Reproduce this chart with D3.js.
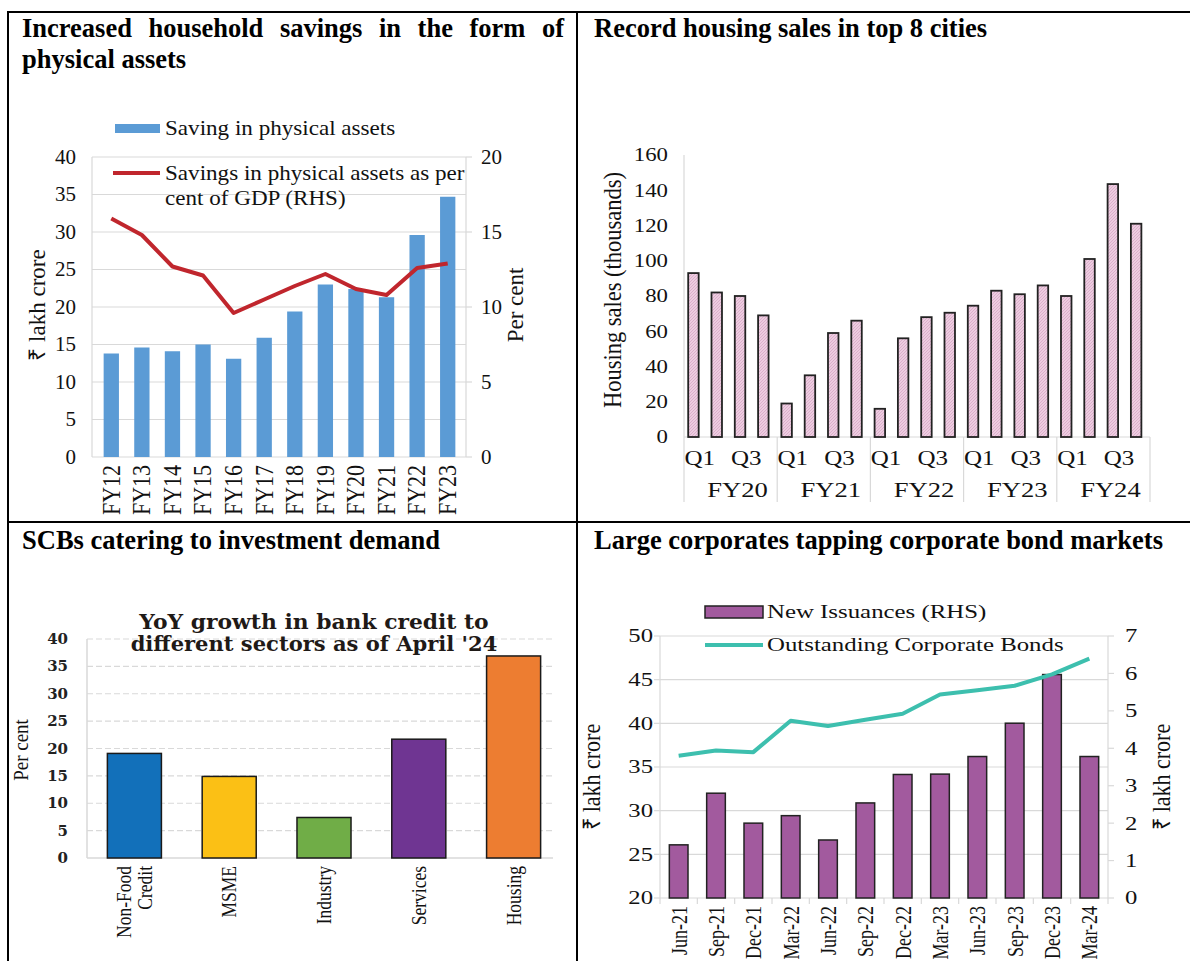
<!DOCTYPE html>
<html><head><meta charset="utf-8">
<script src="https://cdn.jsdelivr.net/npm/d3@7"></script>
<style>
body{margin:0;background:#fff}
svg text{font-family:"Liberation Serif","Times New Roman",serif;fill:#111}
</style>
</head><body>
<svg id="c" width="1190" height="961"></svg>
<script>
// ---------- DATA ----------
const fyYears = ["FY12","FY13","FY14","FY15","FY16","FY17","FY18","FY19","FY20","FY21","FY22","FY23"];
const physicalSavings = [13.8,14.6,14.1,15.0,13.1,15.9,19.4,23.0,22.4,21.3,29.6,34.7];
const physicalSavingsPctGDP = [15.9,14.8,12.7,12.1,9.6,10.5,11.4,12.2,11.2,10.8,12.6,12.9];
const savingsLeftTicks = [0,5,10,15,20,25,30,35,40];
const savingsRightTicks = [0,5,10,15,20];

const housingYears = ["FY20","FY21","FY22","FY23","FY24"];
const housingQuarters = ["Q1","Q2","Q3","Q4"];
const housingSales = [93,82,80,69, 19,35,59,66, 16,56,68,70.5, 74.5,83,81,86, 80,101,143.5,121];
const housingTicks = [0,20,40,60,80,100,120,140,160];

const sectors = [["Non-Food","Credit"],["MSME"],["Industry"],["Services"],["Housing"]];
const creditGrowth = [19.1,14.9,7.4,21.7,36.9];
const sectorColors = ["#1270BA","#FBC015","#70AD47","#6F3592","#ED7D31"];
const creditTicks = [0,5,10,15,20,25,30,35,40];

const bondDates = ["Jun-21","Sep-21","Dec-21","Mar-22","Jun-22","Sep-22","Dec-22","Mar-23","Jun-23","Sep-23","Dec-23","Mar-24"];
const newIssuances = [1.42,2.80,2.00,2.20,1.55,2.54,3.30,3.31,3.78,4.67,5.97,3.78];
const outstandingBonds = [36.3,36.9,36.7,40.3,39.7,40.4,41.1,43.3,43.8,44.3,45.6,47.4];
const bondLeftTicks = [20,25,30,35,40,45,50];
const bondRightTicks = [0,1,2,3,4,5,6,7];

// ---------- SETUP ----------
const svg = d3.select("#c");
const GRID = "#d9d9d9";

const border = svg.append("g").attr("stroke","#000").attr("stroke-width",2);
border.append("line").attr("x1",8).attr("x2",1190).attr("y1",12).attr("y2",12);
border.append("line").attr("x1",8).attr("x2",8).attr("y1",11).attr("y2",961);
border.append("line").attr("x1",577).attr("x2",577).attr("y1",11).attr("y2",961);
border.append("line").attr("x1",8).attr("x2",1190).attr("y1",522).attr("y2",522);

function txt(g, x, y, s, o={}) {
  const sx = o.sx || 1;
  let tr = `translate(${x},${y}) scale(${sx},1)`;
  if (o.rot) tr += " rotate(-90)";
  const t = g.append("text").attr("transform", tr)
    .attr("font-size", o.size || 19)
    .attr("text-anchor", o.anchor || "start")
    .text(s);
  if (o.weight) t.attr("font-weight", o.weight);
  if (o.family) t.style("font-family", o.family);
  if (o.baseline) t.attr("dominant-baseline", o.baseline);
  if (o.fill) t.style("fill", o.fill);
  return t;
}

const TS = 26.5;
function title(x, y, s) {
  return txt(svg, x, y, s, {size:TS, weight:"bold"}).style("fill","#000");
}
(function(){
  const words = "Increased household savings in the form of".split(" ");
  const x0 = 22, x1 = 564;
  const ts = words.map(w => txt(svg, 0, 37, w, {size:TS, weight:"bold"}).style("fill","#000"));
  const ws = ts.map(t => t.node().getComputedTextLength());
  const gap = (x1 - x0 - d3.sum(ws)) / (words.length - 1);
  let x = x0;
  ts.forEach((t,i) => { t.attr("transform", `translate(${x},37)`); x += ws[i] + gap; });
})();
title(22, 68, "physical assets");
title(594, 37, "Record housing sales in top 8 cities");
title(22, 549, "SCBs catering to investment demand");
title(594, 549, "Large corporates tapping corporate bond markets");

// ---------- PANEL 1 ----------
{
  const g = svg.append("g");
  const x = d3.scaleBand().domain(fyYears).range([96, 463]).paddingInner(0.5).paddingOuter(0.25);
  const yL = d3.scaleLinear().domain([0,40]).range([457,157]);
  const yR = d3.scaleLinear().domain([0,20]).range([457,157]);
  const cx = d => x(d) + x.bandwidth()/2;
  g.selectAll(".gl").data(savingsLeftTicks).join("line")
    .attr("x1",92).attr("x2",466).attr("y1",d=>yL(d)).attr("y2",d=>yL(d))
    .attr("stroke",GRID).attr("stroke-width",1.2);
  g.append("line").attr("x1",92).attr("x2",92).attr("y1",157).attr("y2",457).attr("stroke",GRID).attr("stroke-width",1.2);
  g.append("line").attr("x1",466).attr("x2",466).attr("y1",157).attr("y2",457).attr("stroke",GRID).attr("stroke-width",1.2);
  g.selectAll(".tr").data(savingsRightTicks).join("line")
    .attr("x1",466).attr("x2",472).attr("y1",d=>yR(d)).attr("y2",d=>yR(d)).attr("stroke",GRID).attr("stroke-width",1.2);
  g.selectAll(".bar").data(physicalSavings).join("rect")
    .attr("x",(d,i)=>x(fyYears[i])).attr("width",x.bandwidth())
    .attr("y",d=>yL(d)).attr("height",d=>yL(0)-yL(d)).attr("fill","#5B9BD5");
  g.append("path").datum(physicalSavingsPctGDP)
    .attr("d", d3.line().x((d,i)=>cx(fyYears[i])).y(d=>yR(d)))
    .attr("fill","none").attr("stroke","#C0262D").attr("stroke-width",4).attr("stroke-linejoin","round");
  savingsLeftTicks.forEach(v => txt(g, 76, yL(v), v, {size:20, sx:1.05, anchor:"end", baseline:"central"}));
  savingsRightTicks.forEach(v => txt(g, 481, yR(v), v, {size:20, sx:1.05, baseline:"central"}));
  fyYears.forEach(f => txt(g, cx(f), 465, f, {size:22, sx:1.1, anchor:"end", rot:true, baseline:"central"}));
  txt(g, 37, 305, "₹ lakh crore", {size:23, anchor:"middle", rot:true, baseline:"central"});
  txt(g, 515, 305, "Per cent", {size:23, anchor:"middle", rot:true, baseline:"central"});
  g.append("rect").attr("x",115).attr("y",124).attr("width",45).attr("height",9).attr("fill","#5B9BD5");
  txt(g, 165, 135, "Saving in physical assets", {size:22, sx:1.05});
  g.append("line").attr("x1",113).attr("x2",160).attr("y1",173).attr("y2",173).attr("stroke","#C0262D").attr("stroke-width",4);
  txt(g, 165, 180, "Savings in physical assets as per", {size:22, sx:1.05});
  txt(g, 165, 205, "cent of GDP (RHS)", {size:22, sx:1.05});
}

// ---------- PANEL 2 ----------
{
  const g = svg.append("g");
  const defs = svg.append("defs");
  const p = defs.append("pattern").attr("id","hatch").attr("patternUnits","userSpaceOnUse").attr("width",3).attr("height",3);
  p.append("rect").attr("width",3).attr("height",3).attr("fill","#EDCCE0");
  p.append("path").attr("d","M0,3 L3,0").attr("stroke","#D7A7C5").attr("stroke-width",0.8);
  const slots = d3.range(housingSales.length);
  const x = d3.scaleBand().domain(slots).range([684, 1150]);
  const y = d3.scaleLinear().domain([0,160]).range([437,155]);
  const bw = x.bandwidth();
  g.append("line").attr("x1",684).attr("x2",684).attr("y1",155).attr("y2",437).attr("stroke",GRID).attr("stroke-width",1.2);
  g.append("line").attr("x1",684).attr("x2",1150).attr("y1",437).attr("y2",437).attr("stroke",GRID).attr("stroke-width",1.2);
  g.selectAll(".bar").data(housingSales).join("rect")
    .attr("x",(d,i)=>x(i)+bw*0.18).attr("width",bw*0.45)
    .attr("y",d=>y(d)).attr("height",d=>y(0)-y(d))
    .attr("fill","url(#hatch)").attr("stroke","#222").attr("stroke-width",1.8);
  housingTicks.forEach(v => txt(g, 668, y(v), v, {size:19, sx:1.2, anchor:"end", baseline:"central"}));
  housingYears.forEach((fy,k) => {
    const s = x(k*4);
    g.append("line").attr("x1",s).attr("x2",s).attr("y1",437).attr("y2",502).attr("stroke",GRID).attr("stroke-width",1.2);
    txt(g, x(k*4+1)+bw+7, 490, fy, {size:20, sx:1.33, anchor:"middle", baseline:"central"});
    ["Q1","Q3"].forEach(q => {
      const qi = housingQuarters.indexOf(q);
      txt(g, x(k*4+qi)+bw/2+4, 458, q, {size:20, sx:1.25, anchor:"middle", baseline:"central"});
    });
  });
  g.append("line").attr("x1",1150).attr("x2",1150).attr("y1",437).attr("y2",502).attr("stroke",GRID).attr("stroke-width",1.2);
  txt(g, 613, 290, "Housing sales (thousands)", {size:22.5, sx:1.1, anchor:"middle", rot:true, baseline:"central"});
}

// ---------- PANEL 3 ----------
{
  const g = svg.append("g");
  const names = sectors.map(s => s.join(" "));
  const x = d3.scaleBand().domain(names).range([87, 561]).paddingInner(0.43).paddingOuter(0.215);
  const y = d3.scaleLinear().domain([0,40]).range([858,639]);
  g.selectAll(".gl").data(creditTicks.filter(v=>v>0)).join("line")
    .attr("x1",87).attr("x2",553).attr("y1",d=>y(d)).attr("y2",d=>y(d))
    .attr("stroke",GRID).attr("stroke-width",1.2).attr("stroke-dasharray","6,3");
  g.append("line").attr("x1",87).attr("x2",87).attr("y1",639).attr("y2",858).attr("stroke",GRID).attr("stroke-width",1.5);
  g.append("line").attr("x1",87).attr("x2",553).attr("y1",858).attr("y2",858).attr("stroke",GRID).attr("stroke-width",1.5);
  g.selectAll(".bar").data(creditGrowth).join("rect")
    .attr("x",(d,i)=>x(names[i])).attr("width",x.bandwidth())
    .attr("y",d=>y(d)).attr("height",d=>y(0)-y(d))
    .attr("fill",(d,i)=>sectorColors[i]).attr("stroke","#1a1a1a").attr("stroke-width",1.5);
  creditTicks.forEach(v => txt(g, 68, y(v), v, {size:15, weight:"bold", family:"DejaVu Serif", anchor:"end", baseline:"central", fill:"#222"}));
  sectors.forEach((lines,i) => {
    const c = x(names[i]) + x.bandwidth()/2;
    lines.forEach((ln,j) => {
      const off = (j - (lines.length-1)/2) * 21;
      txt(g, c+off, 866, ln, {size:17.5, sx:1.2, anchor:"end", rot:true, baseline:"central"});
    });
  });
  txt(g, 314, 629, "YoY growth in bank credit to", {size:19.5, sx:1.12, weight:"bold", family:"DejaVu Serif", anchor:"middle", fill:"#1f1a17"});
  txt(g, 314, 651, "different sectors as of April '24", {size:19.5, sx:1.08, weight:"bold", family:"DejaVu Serif", anchor:"middle", fill:"#1f1a17"});
  txt(g, 21, 750, "Per cent", {size:19, sx:1.05, anchor:"middle", rot:true, baseline:"central"});
}

// ---------- PANEL 4 ----------
{
  const g = svg.append("g");
  const x = d3.scaleBand().domain(bondDates).range([660, 1108]).paddingInner(0.5).paddingOuter(0.25);
  const xs = d3.scaleBand().domain(bondDates).range([660, 1108]);
  const yL = d3.scaleLinear().domain([20,50]).range([898,636]);
  const yR = d3.scaleLinear().domain([0,7]).range([898,636]);
  const cx = d => xs(d) + xs.bandwidth()/2;
  g.selectAll(".gl").data(bondLeftTicks).join("line")
    .attr("x1",660).attr("x2",1108).attr("y1",d=>yL(d)).attr("y2",d=>yL(d))
    .attr("stroke",GRID).attr("stroke-width",1.2);
  g.append("line").attr("x1",660).attr("x2",660).attr("y1",636).attr("y2",898).attr("stroke",GRID).attr("stroke-width",1.2);
  g.append("line").attr("x1",1108).attr("x2",1108).attr("y1",636).attr("y2",898).attr("stroke",GRID).attr("stroke-width",1.2);
  g.selectAll(".tr").data(bondRightTicks).join("line")
    .attr("x1",1108).attr("x2",1114).attr("y1",d=>yR(d)).attr("y2",d=>yR(d)).attr("stroke",GRID).attr("stroke-width",1.2);
  g.selectAll(".tl").data(bondLeftTicks).join("line")
    .attr("x1",654).attr("x2",660).attr("y1",d=>yL(d)).attr("y2",d=>yL(d)).attr("stroke",GRID).attr("stroke-width",1.2);
  g.selectAll(".tx").data(bondDates.concat([null])).join("line")
    .attr("x1",(d,i)=>660+i*xs.step()).attr("x2",(d,i)=>660+i*xs.step())
    .attr("y1",898).attr("y2",904).attr("stroke",GRID).attr("stroke-width",1.2);
  g.selectAll(".bar").data(newIssuances).join("rect")
    .attr("x",(d,i)=>x(bondDates[i])).attr("width",x.bandwidth())
    .attr("y",d=>yR(d)).attr("height",d=>yR(0)-yR(d))
    .attr("fill","#A25A9E").attr("stroke","#222").attr("stroke-width",1.5);
  g.append("path").datum(outstandingBonds)
    .attr("d", d3.line().x((d,i)=>cx(bondDates[i])).y(d=>yL(d)))
    .attr("fill","none").attr("stroke","#3DBFAE").attr("stroke-width",4).attr("stroke-linejoin","round");
  bondLeftTicks.forEach(v => txt(g, 653, yL(v), v, {size:19, sx:1.3, anchor:"end", baseline:"central"}));
  bondRightTicks.forEach(v => txt(g, 1125, yR(v), v, {size:19, sx:1.3, baseline:"central"}));
  bondDates.forEach(d => txt(g, cx(d), 906, d, {size:18, sx:1.3, anchor:"end", rot:true, baseline:"central"}));
  txt(g, 592, 777, "₹ lakh crore", {size:22, sx:1.1, anchor:"middle", rot:true, baseline:"central"});
  txt(g, 1162, 777, "₹ lakh crore", {size:22, sx:1.1, anchor:"middle", rot:true, baseline:"central"});
  g.append("rect").attr("x",705).attr("y",606).attr("width",58).attr("height",12)
    .attr("fill","#A25A9E").attr("stroke","#222").attr("stroke-width",1.5);
  txt(g, 767, 618, "New Issuances (RHS)", {size:18, sx:1.38});
  g.append("line").attr("x1",705).attr("x2",763).attr("y1",645).attr("y2",645).attr("stroke","#3DBFAE").attr("stroke-width",4);
  txt(g, 767, 651, "Outstanding Corporate Bonds", {size:18, sx:1.38});
}
</script>
</body></html>
